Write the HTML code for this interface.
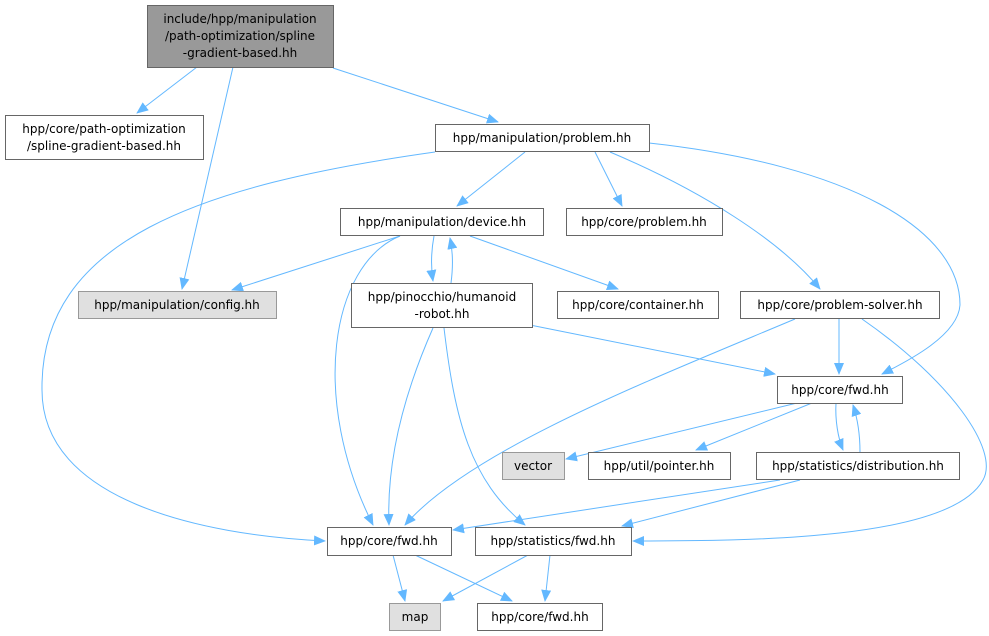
<!DOCTYPE html>
<html><head><meta charset="utf-8"><style>
html,body{margin:0;padding:0;background:#fff;}
svg{display:block;font-family:"DejaVu Sans","Liberation Sans",sans-serif;font-size:12px;}
.n{fill:#fff;stroke:#666;stroke-width:1}
.g{fill:#e0e0e0;stroke:#999;stroke-width:1}
.e{fill:none;stroke:#63b8ff;stroke-width:1}
text{fill:#000;text-anchor:middle}
</style></head><body>
<svg width="989" height="636" viewBox="0 0 989 636">
<defs><marker id="a" markerWidth="12" markerHeight="10" refX="11" refY="5" orient="auto" markerUnits="userSpaceOnUse"><path d="M0,0 L12,5 L0,10 z" fill="#63b8ff"/></marker></defs>
<g class="e" marker-end="url(#a)">
<path d="M197,67 L137,113"/>
<path d="M233,67 L182,289"/>
<path d="M333,68 L498,122"/>
<path d="M435,152 C200,185 40,240 42,390 C42,500 200,535 325,541"/>
<path d="M525,152 L457,206"/>
<path d="M595,152 L622,206"/>
<path d="M610,152 C700,190 780,240 820,289"/>
<path d="M649,143 C850,165 960,230 960,305 C958,335 910,360 882,374"/>
<path d="M400,236 L232,290"/>
<path d="M400,236 C330,265 310,400 373,525"/>
<path d="M434,236 C431,252 431,268 433,281"/>
<path d="M451,283 C453,268 453,252 450,238"/>
<path d="M470,236 L618,289"/>
<path d="M433,328 C410,380 386,450 389,525"/>
<path d="M444,328 C455,420 470,480 525,525"/>
<path d="M530,325 L775,374"/>
<path d="M795,319 C650,380 470,450 405,525"/>
<path d="M839,319 L839,374"/>
<path d="M862,319 C950,380 1000,450 983,480 C950,540 750,541 633,541"/>
<path d="M797,403 L566,459"/>
<path d="M812,403 L696,450"/>
<path d="M836,403 C835,420 838,438 843,450"/>
<path d="M860,452 C860,436 858,420 853,405"/>
<path d="M780,480 L453,530"/>
<path d="M800,480 L622,526"/>
<path d="M393,555 L405,601"/>
<path d="M415,555 L512,601"/>
<path d="M528,555 L443,601"/>
<path d="M550,555 L545,601"/>
</g>
<rect x="147.5" y="5.5" width="186" height="62" fill="#999" stroke="#666"/>
<text x="240" y="23">include/hpp/manipulation</text>
<text x="240" y="40">/path-optimization/spline</text>
<text x="240" y="57">-gradient-based.hh</text>
<rect class="n" x="5.5" y="115.5" width="198" height="44"/>
<text x="104" y="133">hpp/core/path-optimization</text>
<text x="104" y="150">/spline-gradient-based.hh</text>
<rect class="n" x="435.5" y="124.5" width="214" height="27"/><text x="542" y="142">hpp/manipulation/problem.hh</text>
<rect class="n" x="340.5" y="208.5" width="203" height="27"/><text x="442" y="226">hpp/manipulation/device.hh</text>
<rect class="n" x="566.5" y="208.5" width="156" height="27"/><text x="644" y="226">hpp/core/problem.hh</text>
<rect class="g" x="78.5" y="291.5" width="198" height="27"/><text x="177" y="309">hpp/manipulation/config.hh</text>
<rect class="n" x="351.5" y="283.5" width="181" height="44"/>
<text x="442" y="301">hpp/pinocchio/humanoid</text><text x="442" y="318">-robot.hh</text>
<rect class="n" x="557.5" y="291.5" width="161" height="27"/><text x="638" y="309">hpp/core/container.hh</text>
<rect class="n" x="740.5" y="291.5" width="199" height="27"/><text x="840" y="309">hpp/core/problem-solver.hh</text>
<rect class="n" x="777.5" y="376.5" width="125" height="27"/><text x="840" y="394">hpp/core/fwd.hh</text>
<rect class="g" x="502.5" y="452.5" width="62" height="27"/><text x="533" y="470">vector</text>
<rect class="n" x="588.5" y="452.5" width="142" height="27"/><text x="659" y="470">hpp/util/pointer.hh</text>
<rect class="n" x="756.5" y="452.5" width="203" height="27"/><text x="858" y="470">hpp/statistics/distribution.hh</text>
<rect class="n" x="327.5" y="527.5" width="124" height="28"/><text x="389" y="545">hpp/core/fwd.hh</text>
<rect class="n" x="475.5" y="527.5" width="156" height="28"/><text x="553" y="545">hpp/statistics/fwd.hh</text>
<rect class="g" x="389.5" y="603.5" width="51" height="27"/><text x="415" y="621">map</text>
<rect class="n" x="477.5" y="603.5" width="125" height="27"/><text x="540" y="621">hpp/core/fwd.hh</text>
</svg>
</body></html>
